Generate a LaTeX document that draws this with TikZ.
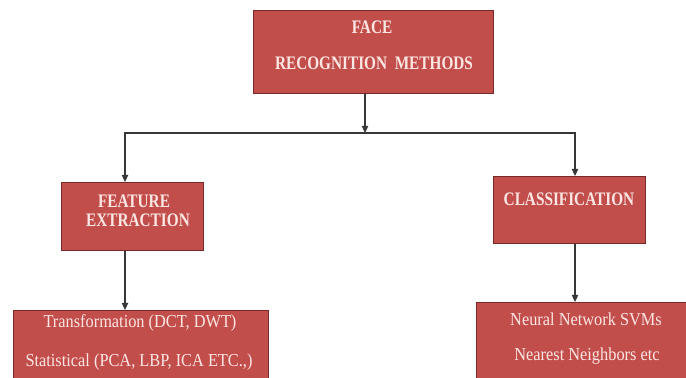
\documentclass[tikz,border=0pt]{standalone}
\usepackage{fontspec}
\setmainfont{Liberation Serif}
\usetikzlibrary{arrows.meta,positioning}

\definecolor{boxred}{RGB}{194,78,76}
\definecolor{boxedge}{RGB}{118,42,40}
\definecolor{boxtext}{RGB}{252,230,226}
\definecolor{wire}{RGB}{55,55,55}

\begin{document}
\begin{tikzpicture}[x=0.02cm,y=-0.02cm,>={Triangle[length=4pt,width=3.6pt]},
	box/.style={draw=boxedge,fill=boxred,line width=0.8pt,inner sep=0pt,anchor=north west},
	head/.style={text=boxtext,font=\bfseries\fontsize{8.7}{10}\selectfont,inner sep=0pt,anchor=base,yscale=1.25,transform shape},
	body/.style={text=boxtext,font=\fontsize{9.3}{11}\selectfont,inner sep=0pt,anchor=base,yscale=1.12,transform shape},
	link/.style={draw=wire,line width=0.7pt}]

	\useasboundingbox (0,0) rectangle (686,378);
	\clip (0,0) rectangle (686,378);

	% boxes
	\node [box,minimum width=4.8cm,minimum height=1.66cm]	(top)	at (253,10)		{};
	\node [box,minimum width=2.84cm,minimum height=1.36cm]	(feat)	at (61,182)		{};
	\node [box,minimum width=3.04cm,minimum height=1.34cm]	(class)	at (493,176)	{};
	\node [box,minimum width=5.1cm,minimum height=1.8cm]	(botL)	at (13,310)		{};
	\node [box,minimum width=4.4cm,minimum height=1.8cm]	(botR)	at (476,302)	{};

	% texts
	\node [head] (topA)		at (372,34)		{FACE};
	\node [head] (topB)		at (374,70)		{RECOGNITION\ \ METHODS};
	\node [head] (featA)	at (134,208)	{FEATURE};
	\node [head] (featB)	at (138,227)	{EXTRACTION};
	\node [head] (classA)	at (569,206)	{CLASSIFICATION};
	\node [body] (botLA)	at (140,327)	{Transformation (DCT, DWT)};
	\node [body] (botLB)	at (139,366)	{Statistical (PCA, LBP, ICA ETC.,)};
	\node [body] (botRA)	at (586,325)	{Neural Network SVMs};
	\node [body] (botRB)	at (587,360)	{Nearest Neighbors etc};

	% connectors
	\coordinate (split)	at (365,133);
	\coordinate (lcol)	at (125,0);
	\coordinate (rcol)	at (575,0);

	\draw [link,->] (top.south -| split) -- (split);
	\draw [link,->] (split) -| (lcol |- feat.north);
	\draw [link,->] (split) -| (rcol |- class.north);
	\draw [link,->] (lcol |- feat.south) -- (lcol |- botL.north);
	\draw [link,->] (rcol |- class.south) -- (rcol |- botR.north);

\end{tikzpicture}
\end{document}
